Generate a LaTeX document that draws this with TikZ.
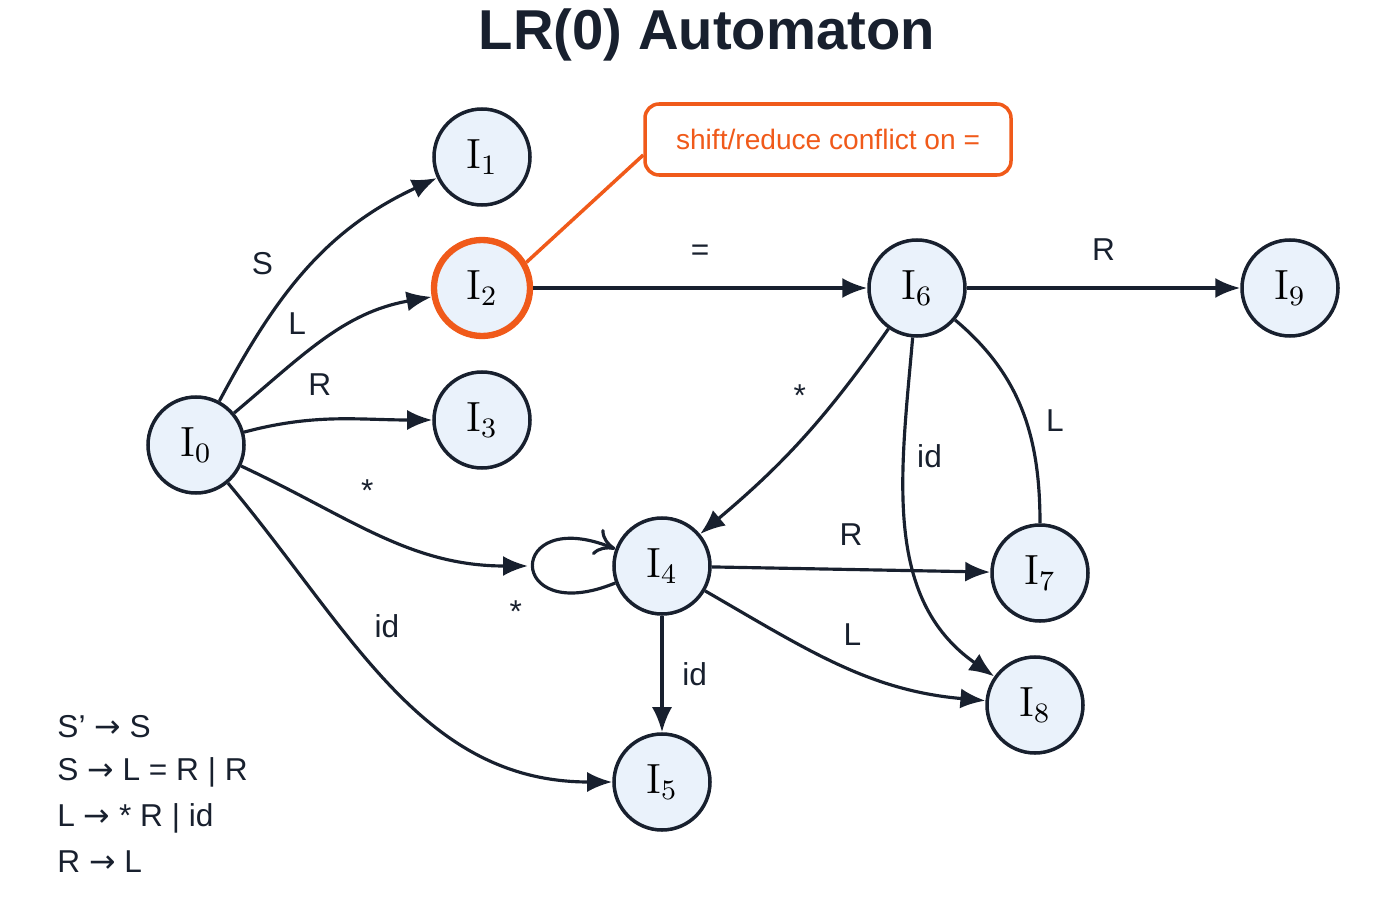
\documentclass[tikz,border=0pt]{standalone}
\usepackage{fontspec}
\setsansfont{Liberation Sans}
\newfontfamily\arrowfont{DejaVu Sans}
\usetikzlibrary{arrows.meta,positioning}
\definecolor{ink}{HTML}{18202E}
\definecolor{nodefill}{HTML}{EAF2FB}
\definecolor{warn}{HTML}{F05A1A}
\newcommand{\yields}{{\arrowfont →}}
\tikzstyle{state} = [circle, minimum size=0.96cm, inner sep=0, draw=ink, line width=1pt, fill=nodefill, font=\rmfamily\large]
\tikzstyle{arrow} = [ink, line width=0.9pt, -{Latex[length=2.5mm,width=2mm]}]
\tikzstyle{lbl} = [font=\sffamily\small, text=ink]

\begin{document}
\begin{tikzpicture}
\useasboundingbox (0,0) rectangle (14,9);

\node[font=\sffamily\bfseries\fontsize{16}{18}\selectfont, text=ink] (title) at (7.07,8.65) {LR(0) Automaton};

% states
\node[state] (I0) at (1.96,4.55) {I$_0$};
\node[state] (I1) at (4.82,7.43) {I$_1$};
\node[state, draw=warn, line width=1.8pt] (I2) at (4.82,6.12) {I$_2$};
\node[state] (I3) at (4.82,4.80) {I$_3$};
\node[state] (I4) at (6.62,3.34) {I$_4$};
\node[state] (I5) at (6.62,1.18) {I$_5$};
\node[state] (I6) at (9.17,6.12) {I$_6$};
\node[state] (I7) at (10.40,3.27) {I$_7$};
\node[state] (I8) at (10.35,1.95) {I$_8$};
\node[state] (I9) at (12.90,6.12) {I$_9$};
\coordinate (loopin) at (5.28,3.34);

% conflict note
\node[draw=warn, line width=1pt, rounded corners=4pt, minimum width=3.66cm, minimum height=0.71cm,
  font=\sffamily\footnotesize, text=warn] (note) at (8.28,7.605) {shift/reduce conflict on =};
\draw[warn, line width=1pt] (I2.30) -- (note.west |- 0,7.45);

% transitions
\draw[arrow] (I0) to[out=62,in=205] node[lbl, pos=0.4, above left=1pt] {S} (I1);
\draw[arrow] (I0) to[out=40,in=190] node[lbl, pos=0.45, above left=-1pt] {L} (I2);
\draw[arrow] (I0) to[out=15,in=180] node[lbl, pos=0.4, above=3pt] {R} (I3);
\draw[arrow] (I0) to[out=-25,in=180] node[lbl, pos=0.45, above=4pt] {*} (loopin);
\draw[arrow] (I0) to[out=-50,in=180] node[lbl, pos=0.4, above right] {id} (I5);
\draw[ink, line width=0.9pt, -{To[length=2mm,width=2.8mm]}] (I4.200) .. controls +(-1.1,-0.45) and +(-1.1,0.45) .. node[lbl, pos=0.35, below left=2pt] {*} (I4.160);
\draw[arrow] (I2) -- node[lbl, above=4pt] {=} (I6);
\draw[arrow] (I6) -- node[lbl, above=4pt] {R} (I9);
\draw[arrow] (I6) to[out=235,in=40] node[lbl, pos=0.4, above left] {*} (I4);
\draw[arrow] (I6) to[out=265,in=145] node[lbl, pos=0.3, right] {id} (I8);
\draw[ink, line width=0.9pt] (I7) to[out=90,in=-40] node[lbl, pos=0.45, right=2pt] {L} (I6);
\draw[arrow] (I4) -- node[lbl, above=3pt] {R} (I7);
\draw[arrow] (I4) to[out=-30,in=175] node[lbl, pos=0.55, above=3pt] {L} (I8);
\draw[arrow] (I4) -- node[lbl, right=2pt] {id} (I5);

% grammar
\tikzset{gram/.style={font=\sffamily\small, text=ink, anchor=west}}
\node[gram] (g1) at (0.45,1.73) {S' \yields{} S};
\node[gram] (g2) at (0.45,1.28) {S \yields{} L = R | R};
\node[gram] (g3) at (0.45,0.82) {L \yields{} * R | id};
\node[gram] (g4) at (0.45,0.38) {R \yields{} L};
\end{tikzpicture}
\end{document}
